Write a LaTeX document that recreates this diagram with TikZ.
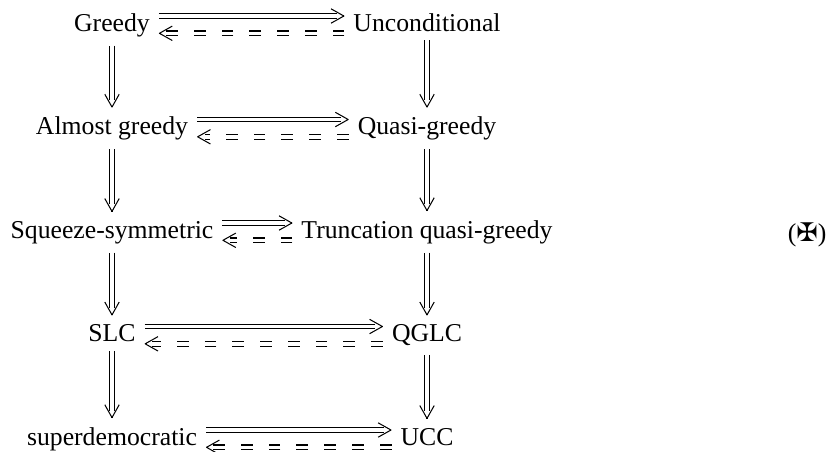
\documentclass[tikz,border=0pt]{standalone}
\usepackage{fontspec}
\setmainfont{Liberation Serif}
\newfontfamily\symfont{DejaVu Sans}
\usetikzlibrary{arrows.meta,calc}
\begin{document}
\begin{tikzpicture}[x=0.389pt,y=-0.389pt,
  lbl/.style={anchor=base, inner sep=3.33pt, font=\fontsize{10pt}{12pt}\selectfont},
  dline/.style={double, double distance=1.4pt, line width=0.4pt, shorten >=2.9pt},
  ddash/.style={dline, dash pattern=on 4.6pt off 6.2pt},
  tipst/.style={line width=0.4pt, -{Straight Barb[length=5pt, width=5.6pt, line join=round]}}]
\useasboundingbox (0,0) rectangle (829,451);
% nodes
\node[lbl] (g)  at (112,31)    {Greedy};
\node[lbl] (u)  at (427,31)    {Unconditional};
\node[lbl] (ag) at (112,134.5) {Almost greedy};
\node[lbl] (qg) at (427,134.5) {Quasi-greedy};
\node[lbl] (ss) at (112,238)   {Squeeze-symmetric};
\node[lbl] (tq) at (427,238)   {Truncation quasi-greedy};
\node[lbl] (slc) at (112,341.5) {SLC};
\node[lbl] (qglc) at (427,341.5) {QGLC};
\node[lbl] (sd) at (112,445)   {superdemocratic};
\node[lbl] (ucc) at (427,445)  {UCC};
\node[anchor=base east, inner sep=0pt, font=\fontsize{10pt}{12pt}\selectfont] (tag) at (827,241) {({\symfont ✠})};
% horizontal arrows
\foreach \a/\b in {g/u, ag/qg, ss/tq, slc/qglc, sd/ucc}{
  \coordinate (p1) at ($(\a.base east)+(0,-15)$);
  \coordinate (p2) at ($(\b.base west)+(0,-15)$);
  \draw[dline] (p1) -- (p2);
  \draw[tipst] ($(p2)!0.5pt!(p1)$) -- (p2);
  \coordinate (q1) at ($(\b.base west)+(0,2.3)$);
  \coordinate (q2) at ($(\a.base east)+(0,2.3)$);
  \draw[ddash] (q1) -- (q2);
  \draw[tipst] ($(q2)!0.5pt!(q1)$) -- (q2);
}
% vertical arrows
\foreach \a/\b in {g/ag, ag/ss, ss/slc, slc/sd, u/qg, qg/tq, tq/qglc, qglc/ucc}{
  \draw[dline] (\a.south) -- (\b.north);
  \draw[tipst] ($(\b.north)!0.5pt!(\a.south)$) -- (\b.north);
}
\end{tikzpicture}
\end{document}
